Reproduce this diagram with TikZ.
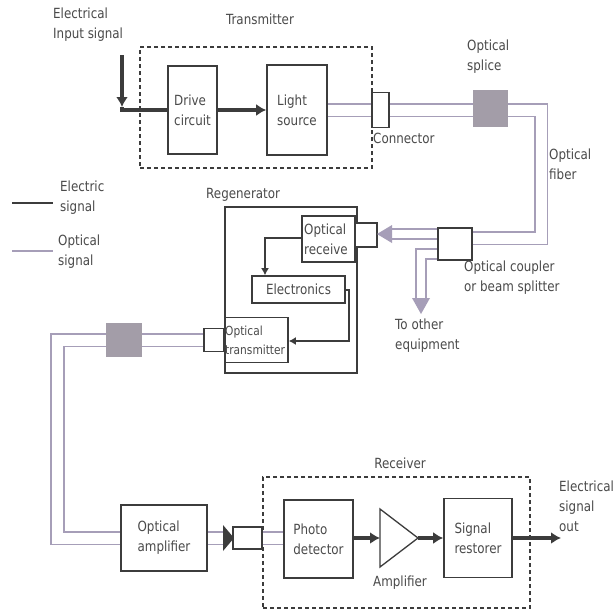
\documentclass[tikz,border=0pt]{standalone}
\usepackage{fontspec}
\setmainfont{DejaVu Sans}[FakeStretch=0.85]
\usetikzlibrary{arrows.meta}
\definecolor{ink}{HTML}{3C3C3C}
\definecolor{txt}{HTML}{4A4A4A}
\definecolor{fib}{HTML}{A69EB8}
\definecolor{splc}{HTML}{A39DA8}
\begin{document}
\begin{tikzpicture}[x=1pt,y=-1pt,
  every node/.style={font=\fontsize{14}{20}\selectfont, text=txt},
  box/.style={draw=ink, line width=1.6pt, fill=white, inner sep=0pt, align=left},
  lbl/.style={align=left, inner sep=0pt},
  dashbox/.style={draw=ink, line width=1.2pt, dash pattern=on 4pt off 3pt},
  elec/.style={draw=ink, line width=3.5pt},
  elecarrow/.style={elec, -{Latex[length=10pt,width=12pt]}},
  electhin/.style={draw=ink, line width=1.6pt},
  electhinarrow/.style={electhin, -{Latex[length=7pt,width=8pt]}},
  fiber/.style={draw=fib, line width=1.6pt, double=white, double distance=11pt, line join=miter},
  fiberthin/.style={draw=fib, line width=1.6pt, double=white, double distance=8pt, line join=miter},
  splicebox/.style={fill=splc, draw=none, inner sep=0pt}
]
\useasboundingbox (0,0) rectangle (616,614);
\fill[white] (0,0) rectangle (616,614);

% ---------- Transmitter ----------
\node[dashbox, minimum width=232pt, minimum height=121pt, inner sep=0pt] (txbox) at (256,107.5) {};
\node (txlabel) at (260,19) {Transmitter};
\node[lbl, anchor=north west] (inlabel) at (53,8) {Electrical\\Input signal};
\node[box, minimum width=49pt, minimum height=88pt] (drive) at (192.5,110) {Drive\\circuit};
\node[box, minimum width=60pt, minimum height=90pt] (light) at (297,110) {Light\\source};
\node[box, minimum width=17pt, minimum height=35pt] (conn1) at (380.5,110) {};
\node[lbl, anchor=west] (connlabel) at (373,138) {Connector};
\node[lbl, anchor=north west] (splicelabel) at (467,40) {Optical\\splice};
\node[lbl, anchor=north west] (fiberlabel) at (549,149) {Optical\\fiber};
\node[box, minimum width=34pt, minimum height=32pt] (coupler) at (455,244) {};

\coordinate (fc1) at (541,110);
\coordinate (fc2) at (541,238);
\draw[fiber] (light.east) -- (conn1.west);
\draw[fiber] (conn1.east) -- (fc1) -- (fc2) -- (coupler.east |- fc2);
\node[splicebox, minimum width=35pt, minimum height=37pt] (splice1) at (490.5,108) {};

\coordinate (inTop) at (122,55);
\coordinate (inTip) at (122,107);
\coordinate (inCorner) at (122,110);
\draw[elecarrow] (inTop) -- (inTip);
\draw[elec] (inTip) -- (inCorner) -- (drive.west);
\draw[elecarrow] (drive.east) -- (light.west);

% ---------- Coupler branches ----------
\coordinate (rxa) at (391,234);
\draw[fiberthin] (coupler.west |- rxa) -- (rxa);
\coordinate (oth1) at (421,254);
\coordinate (oth2) at (421,299);
\draw[fiberthin] (coupler.west |- oth1) -- (oth1) -- (oth2);
\fill[fib] (412,298) -- (430,298) -- (421,314) -- cycle;
\node[lbl, anchor=north west] (couplerlabel) at (464,261) {Optical coupler\\or beam splitter};
\node[lbl, anchor=north west] (otherlabel) at (395,319) {To other\\equipment};

% ---------- Regenerator ----------
\node[draw=ink, line width=1.6pt, minimum width=132pt, minimum height=166pt, inner sep=0pt] (regen) at (291,290) {};
\node[lbl, anchor=west] (regenlabel) at (206,195) {Regenerator};
\node[box, line width=2.6pt, minimum width=53pt, minimum height=46pt] (orx) at (328.5,239) {};
\node[lbl, anchor=west] (orxlabel) at (304,239) {Optical\\receive};
\node[box, minimum width=22pt, minimum height=24pt] (conn2) at (366,235) {};
\fill[fib] (377,234) -- (392,225) -- (392,243) -- cycle;
\node[box, minimum width=93pt, minimum height=27pt, align=center] (elec) at (298.5,289.5) {Electronics};
\node[box, minimum width=63pt, minimum height=45pt] (otx) at (256.5,340) {};
\node[lbl, anchor=west, font=\fontsize{12.5}{19}\selectfont] (otxlabel) at (225,340) {Optical\\transmitter};
\node[box, minimum width=20pt, minimum height=23pt] (conn3) at (214,340) {};

\coordinate (e1) at (265,238);
\draw[electhinarrow] (orx.west |- e1) -- (e1) -- (e1 |- elec.north);
\coordinate (e2) at (349,290);
\coordinate (e3) at (349,341);
\draw[electhinarrow] (elec.east |- e2) -- (e2) -- (e3) -- (otx.east |- e3);

% ---------- Fiber to amplifier ----------
\node[box, minimum width=86pt, minimum height=66pt] (oamp) at (164,538) {Optical\\amplifier};
\coordinate (rc1) at (57.5,340);
\coordinate (rc2) at (57.5,538);
\draw[fiber] (conn3.west) -- (rc1) -- (rc2) -- (oamp.west);
\node[splicebox, minimum width=36pt, minimum height=34pt] (splice2) at (124,340) {};

\coordinate (atip) at (224,538);
\draw[fiber] (oamp.east) -- (atip);
\fill[ink] (223,525) -- (234,538) -- (223,551) -- cycle;
\node[box, minimum width=29pt, minimum height=22pt] (conn4) at (247.5,538) {};

% ---------- Receiver ----------
\node[dashbox, minimum width=267pt, minimum height=131pt, inner sep=0pt] (rxbox) at (396.5,542.5) {};
\node (rxlabel) at (400,463) {Receiver};
\node[box, minimum width=69pt, minimum height=78pt] (pd) at (318.5,539) {Photo\\detector};
\draw[fiber] (conn4.east) -- (pd.west |- conn4.east);

\coordinate (ampL) at (380,538);
\coordinate (ampR) at (418,538);
\draw[draw=ink, line width=1.3pt, fill=white] (380,509) -- (ampR) -- (380,567) -- cycle;
\node (amplabel) at (400,583) {Amplifier};
\node[box, minimum width=68pt, minimum height=79pt] (sr) at (478,538) {Signal\\restorer};
\coordinate (outTip) at (561,538);
\draw[elecarrow] (pd.east |- ampL) -- (ampL);
\draw[elecarrow] (ampR) -- (sr.west);
\draw[elecarrow] (sr.east) -- (outTip);
\node[lbl, anchor=north west] (outlabel) at (559,481) {Electrical\\signal\\out};

% ---------- Legend ----------
\coordinate (le1) at (12,203);
\coordinate (le2) at (53,203);
\draw[draw=ink, line width=2pt] (le1) -- (le2);
\node[lbl, anchor=north west] (leglabel1) at (60,181) {Electric\\signal};
\coordinate (lo1) at (12,251);
\coordinate (lo2) at (53,251);
\draw[draw=fib, line width=2pt] (lo1) -- (lo2);
\node[lbl, anchor=north west] (leglabel2) at (58,235) {Optical\\signal};
\end{tikzpicture}
\end{document}
